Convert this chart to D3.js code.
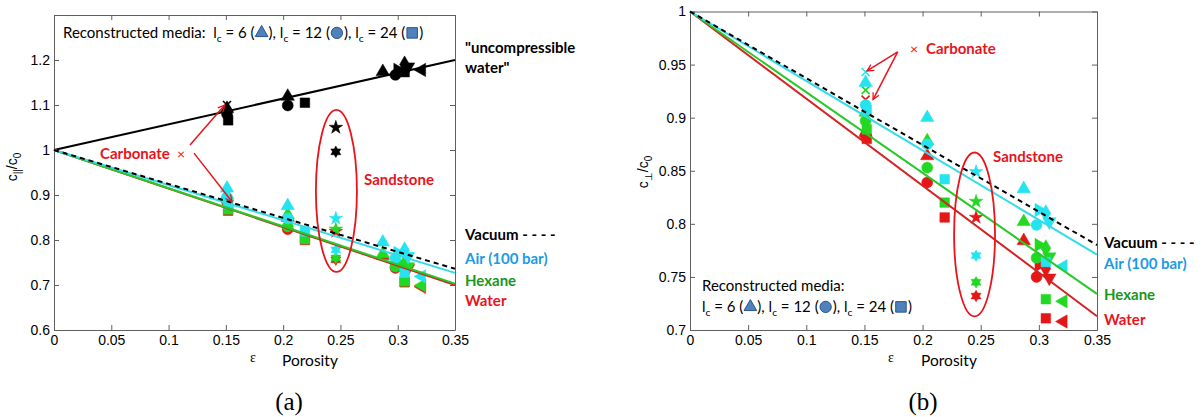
<!DOCTYPE html>
<html>
<head>
<meta charset="utf-8">
<script src="https://cdn.jsdelivr.net/npm/d3@7"></script>
<style>
body { margin: 0; background: #fff; }
svg { display: block; }
.axis text { font-family: "Liberation Sans", Arial, sans-serif; font-size: 14px; fill: #000; }
.axis path, .axis line { stroke: #606060; }
.cal { font-family: Lato, "Open Sans", sans-serif; white-space: pre; }
</style>
</head>
<body>
<svg id="fig" width="1201" height="417"></svg>
<script>
// samples: porosity and the marker used for each one
var samplePorosity = [0.151, 0.151, 0.151, 0.152, 0.204, 0.204, 0.219, 0.246, 0.246, 0.287, 0.298, 0.300, 0.306, 0.306, 0.309, 0.321];
var sampleMarker = ["x", "tri", "circle", "square", "tri", "circle", "square", "star", "hex", "tri", "circle", "triR", "square", "diamond", "triD", "triL"];

// (a) c_par / c0
var parIncomp = [1.100, 1.092, 1.080, 1.066, 1.119, 1.099, 1.105, 1.050, 0.996, 1.174, 1.167, 1.178, 1.173, 1.190, 1.185, 1.178];
var parAir    = [0.893, 0.915, 0.895, 0.880, 0.876, 0.848, 0.819, 0.848, 0.778, 0.795, 0.760, 0.771, 0.727, 0.777, 0.764, 0.719];
var parHexane = [0.890, 0.900, 0.888, 0.868, 0.856, 0.830, 0.802, 0.824, 0.760, 0.769, 0.741, 0.749, 0.708, 0.749, 0.741, 0.699];
var parWater  = [0.888, 0.895, 0.885, 0.865, 0.850, 0.824, 0.800, 0.819, 0.756, 0.765, 0.738, 0.745, 0.706, 0.745, 0.737, 0.696];

// (b) c_perp / c0
var perpAir    = [0.943, 0.933, 0.912, 0.907, 0.900, 0.875, 0.842, 0.849, 0.770, 0.833, 0.799, 0.813, 0.764, 0.810, 0.802, 0.760];
var perpHexane = [0.926, 0.905, 0.897, 0.889, 0.878, 0.853, 0.820, 0.821, 0.745, 0.802, 0.768, 0.780, 0.729, 0.777, 0.769, 0.727];
var perpWater  = [0.917, 0.886, 0.883, 0.880, 0.864, 0.839, 0.806, 0.806, 0.732, 0.784, 0.750, 0.761, 0.711, 0.758, 0.749, 0.708];

// model lines: value at porosity 0 and 0.35
var lineEps = [0, 0.35];
var parLineIncomp = [1, 1.200];
var parLineVacuum = [1, 0.736];
var parLineAir    = [1, 0.727];
var parLineHexane = [1, 0.703];
var parLineWater  = [1, 0.700];
var perpLineVacuum = [1, 0.780];
var perpLineAir    = [1, 0.771];
var perpLineHexane = [1, 0.734];
var perpLineWater  = [1, 0.713];

var xTicks = [0, 0.05, 0.1, 0.15, 0.2, 0.25, 0.3, 0.35];
var xTickLabels = ["0", "0.05", "0.1", "0.15", "0.2", "0.25", "0.3", "0.35"];
var parYTicks = [0.6, 0.7, 0.8, 0.9, 1.0, 1.1, 1.2];
var parYTickLabels = ["0.6", "0.7", "0.8", "0.9", "1", "1.1", "1.2"];
var perpYTicks = [0.7, 0.75, 0.8, 0.85, 0.9, 0.95, 1.0];
var perpYTickLabels = ["0.7", "0.75", "0.8", "0.85", "0.9", "0.95", "1"];

var colBlack = "#000000", colCyan = "#25e3ef", colGreen = "#22d822", colRed = "#e51616";
var lineCyan = "#35dbe6", lineGreen = "#27c927", lineRed = "#d42424";
var annRed = "#e8141c";

var svg = d3.select("#fig");

// arrow head for the red pointers
svg.append("defs").append("marker")
    .attr("id", "arrowRed")
    .attr("viewBox", "-10 -6 12 12")
    .attr("markerWidth", 10).attr("markerHeight", 10)
    .attr("markerUnits", "userSpaceOnUse")
    .attr("orient", "auto")
    .append("path")
    .attr("d", "M-8,-4L0,0L-8,4")
    .attr("fill", "none")
    .attr("stroke", annRed)
    .attr("stroke-width", 1.5);

function hexagramPath(r) {
    var pts = [];
    for (var i = 0; i < 12; i++) {
        var a = Math.PI / 6 * i - Math.PI / 2;
        var rr = i % 2 == 0 ? r : r * 0.58;
        pts.push([rr * Math.cos(a), rr * Math.sin(a)]);
    }
    return "M" + pts.join("L") + "Z";
}

function markerShape(type) {
    switch (type) {
        case "x": return { d: "M-4,-4L4,4M-4,4L4,-4", rot: 0, stroke: true };
        case "tri": return { d: d3.symbol(d3.symbolTriangle, 78)(), rot: 0 };
        case "triR": return { d: d3.symbol(d3.symbolTriangle, 78)(), rot: 90 };
        case "triD": return { d: d3.symbol(d3.symbolTriangle, 78)(), rot: 180 };
        case "triL": return { d: d3.symbol(d3.symbolTriangle, 78)(), rot: -90 };
        case "circle": return { d: d3.symbol(d3.symbolCircle, 95)(), rot: 0 };
        case "square": return { d: d3.symbol(d3.symbolSquare, 92)(), rot: 0 };
        case "diamond": return { d: d3.symbol(d3.symbolDiamond, 85)(), rot: 0 };
        case "star": return { d: d3.symbol(d3.symbolStar, 58)(), rot: 0 };
        case "hex": return { d: hexagramPath(5.8), rot: 0 };
    }
}

// text made of runs, subscripts and inline legend glyphs
function richText(g, x0, y0, pieces, size, color, weight) {
    var cx = x0;
    pieces.forEach(function(pc) {
        if (pc.sym) {
            var w = pc.w;
            g.append("path")
                .attr("d", d3.symbol(pc.sym, pc.size)())
                .attr("transform", "translate(" + (cx + w / 2) + "," + (y0 - size * 0.34) + ")")
                .attr("fill", "#4f81bd")
                .attr("stroke", "#2f528f")
                .attr("stroke-width", 1);
            cx += w;
        } else {
            var t = g.append("text")
                .attr("class", "cal")
                .attr("x", cx)
                .attr("y", pc.sub ? y0 + size * 0.28 : y0)
                .style("font-size", (pc.sub ? size * 0.68 : size) + "px")
                .style("font-weight", weight || "normal")
                .attr("fill", color)
                .text(pc.t);
            cx += t.node().getComputedTextLength();
        }
    });
}

function legendPieces() {
    return [
        { t: "l" }, { t: "c", sub: true }, { t: " = 6 (" }, { sym: d3.symbolTriangle, size: 70, w: 14 },
        { t: "), l" }, { t: "c", sub: true }, { t: " = 12 (" }, { sym: d3.symbolCircle, size: 100, w: 14 },
        { t: "), l" }, { t: "c", sub: true }, { t: " = 24 (" }, { sym: d3.symbolSquare, size: 110, w: 14 },
        { t: ")" }
    ];
}

function drawPanel(p) {
    var x = d3.scaleLinear().domain([0, 0.35]).range([p.left, p.right]);
    var y = d3.scaleLinear().domain(p.yDomain).range([p.bottom, p.top]);
    var g = svg.append("g");

    // box with inward ticks on all four sides
    g.append("g").attr("class", "axis")
        .attr("transform", "translate(0," + p.bottom + ")")
        .call(d3.axisBottom(x).tickValues(xTicks).tickFormat(function(d, i) { return xTickLabels[i]; })
            .tickSizeInner(-5).tickSizeOuter(0).tickPadding(5));
    g.append("g").attr("class", "axis")
        .attr("transform", "translate(0," + p.top + ")")
        .call(d3.axisTop(x).tickValues(xTicks).tickFormat("").tickSizeInner(-5).tickSizeOuter(0));
    g.append("g").attr("class", "axis")
        .attr("transform", "translate(" + p.left + ",0)")
        .call(d3.axisLeft(y).tickValues(p.yTicks).tickFormat(function(d, i) { return p.yTickLabels[i]; })
            .tickSizeInner(-5).tickSizeOuter(0).tickPadding(4));
    g.append("g").attr("class", "axis")
        .attr("transform", "translate(" + p.right + ",0)")
        .call(d3.axisRight(y).tickValues(p.yTicks).tickFormat("").tickSizeInner(-5).tickSizeOuter(0));
    g.selectAll(".axis .tick text").attr("fill", "#000");

    // markers
    p.series.forEach(function(s) {
        g.append("g").selectAll("path")
            .data(s.values)
            .enter().append("path")
            .attr("d", function(d, i) { return markerShape(sampleMarker[i]).d; })
            .attr("transform", function(d, i) {
                return "translate(" + x(samplePorosity[i]) + "," + y(d) + ") rotate(" + markerShape(sampleMarker[i]).rot + ")";
            })
            .attr("fill", function(d, i) { return markerShape(sampleMarker[i]).stroke ? "none" : s.color; })
            .attr("stroke", s.color)
            .attr("stroke-width", function(d, i) { return markerShape(sampleMarker[i]).stroke ? 1.6 : 0.5; });
    });

    // model lines
    var line = d3.line()
        .x(function(d, i) { return x(lineEps[i]); })
        .y(function(d) { return y(d); });
    p.lines.forEach(function(l) {
        g.append("path")
            .attr("d", line(l.values))
            .attr("fill", "none")
            .attr("stroke", l.color)
            .attr("stroke-width", 2)
            .attr("stroke-dasharray", l.dash || null);
    });

    // sandstone ellipse
    g.append("ellipse")
        .attr("cx", x(p.ellipse[0])).attr("cy", y(p.ellipse[1]))
        .attr("rx", x(p.ellipse[2]) - x(0)).attr("ry", y(p.yDomain[0]) - y(p.yDomain[0] + p.ellipse[3]))
        .attr("fill", "none").attr("stroke", annRed).attr("stroke-width", 1.8);

    // carbonate arrows
    p.arrows.forEach(function(a) {
        g.append("line")
            .attr("x1", x(a[0])).attr("y1", y(a[1]))
            .attr("x2", x(a[2])).attr("y2", y(a[3]))
            .attr("stroke", annRed).attr("stroke-width", 1.5)
            .attr("marker-end", "url(#arrowRed)");
    });

    // axis labels
    var yl = g.append("text")
        .attr("transform", "translate(" + p.yLabelPos[0] + "," + p.yLabelPos[1] + ") rotate(-90)")
        .attr("text-anchor", "middle")
        .style("font-family", "Liberation Sans, Arial, sans-serif")
        .style("font-size", "14px");
    yl.append("tspan").text("c");
    yl.append("tspan").attr("dy", 4).style("font-size", "10px").text(p.yLabelSub);
    yl.append("tspan").attr("dy", -4).text("/c");
    yl.append("tspan").attr("dy", 4).style("font-size", "10px").text("0");

    g.append("text")
        .attr("x", p.epsPos[0]).attr("y", p.epsPos[1])
        .attr("text-anchor", "middle")
        .style("font-family", "Liberation Serif, serif").style("font-size", "14px")
        .text("ε");
    g.append("text")
        .attr("class", "cal")
        .attr("x", p.porPos[0]).attr("y", p.porPos[1])
        .attr("text-anchor", "middle")
        .style("font-size", "15.5px")
        .text("Porosity");

    g.append("text")
        .attr("x", p.capPos[0]).attr("y", p.capPos[1])
        .attr("text-anchor", "middle")
        .style("font-family", "Liberation Serif, 'DejaVu Serif', serif").style("font-size", "25px")
        .text(p.caption);
    return { x: x, y: y, g: g };
}

// ---------- panel (a)
var A = drawPanel({
    left: 54, right: 455, top: 15, bottom: 330,
    yDomain: [0.6, 1.3], yTicks: parYTicks, yTickLabels: parYTickLabels,
    series: [
        { values: parIncomp, color: colBlack },
        { values: parWater, color: colRed },
        { values: parHexane, color: colGreen },
        { values: parAir, color: colCyan }
    ],
    lines: [
        { values: parLineIncomp, color: "#000" },
        { values: parLineWater, color: lineRed },
        { values: parLineHexane, color: lineGreen },
        { values: parLineAir, color: lineCyan },
        { values: parLineVacuum, color: "#000", dash: "5,4" }
    ],
    ellipse: [0.2465, 0.909, 0.0179, 0.18],
    arrows: [[0.1187, 1.011, 0.149, 1.100], [0.1222, 0.993, 0.1554, 0.885]],
    yLabelSub: "||", yLabelPos: [17, 167],
    epsPos: [253, 362], porPos: [310, 366],
    caption: "(a)", capPos: [289, 410]
});

richText(A.g, 63, 38, [{ t: "Reconstructed media:  " }].concat(legendPieces()), 15, "#000");
A.g.append("text").attr("class", "cal").attr("x", 100).attr("y", 159)
    .style("font-size", "15px").style("font-weight", "bold").attr("fill", annRed).text("Carbonate ");
A.g.append("text").attr("class", "cal").attr("x", 177).attr("y", 159)
    .style("font-size", "14px").attr("fill", annRed).text("×");
A.g.append("text").attr("class", "cal").attr("x", 364).attr("y", 185)
    .style("font-size", "15px").style("font-weight", "bold").attr("fill", annRed).text("Sandstone");

var rightA = [
    { t: "\"uncompressible", y: 53, c: "#000" },
    { t: "water\"", y: 73, c: "#000" },
    { t: "Vacuum - - - -", y: 240, c: "#000" },
    { t: "Air (100 bar)", y: 264, c: "#1a9be6" },
    { t: "Hexane", y: 286, c: "#1b961b" },
    { t: "Water", y: 306, c: annRed }
];
rightA.forEach(function(r) {
    A.g.append("text").attr("class", "cal").attr("x", 465).attr("y", r.y)
        .style("font-size", "15px").style("font-weight", "bold").attr("fill", r.c).text(r.t);
});

// ---------- panel (b)
var B = drawPanel({
    left: 690, right: 1097, top: 11.5, bottom: 330,
    yDomain: [0.7, 1.0], yTicks: perpYTicks, yTickLabels: perpYTickLabels,
    series: [
        { values: perpWater, color: colRed },
        { values: perpHexane, color: colGreen },
        { values: perpAir, color: colCyan }
    ],
    lines: [
        { values: perpLineWater, color: lineRed },
        { values: perpLineHexane, color: lineGreen },
        { values: perpLineAir, color: lineCyan },
        { values: perpLineVacuum, color: "#000", dash: "5,4" }
    ],
    ellipse: [0.2447, 0.790, 0.0176, 0.0772],
    arrows: [[0.1786, 0.962, 0.1522, 0.944], [0.1786, 0.962, 0.1574, 0.917]],
    yLabelSub: "⊥", yLabelPos: [648, 172],
    epsPos: [891, 362], porPos: [949, 366],
    caption: "(b)", capPos: [923, 410]
});

richText(B.g, 702, 291, [{ t: "Reconstructed media:" }], 15, "#000");
richText(B.g, 702, 312, legendPieces(), 15, "#000");
B.g.append("text").attr("class", "cal").attr("x", 910).attr("y", 54)
    .style("font-size", "14px").attr("fill", annRed).text("×");
B.g.append("text").attr("class", "cal").attr("x", 926).attr("y", 54)
    .style("font-size", "15px").style("font-weight", "bold").attr("fill", annRed).text("Carbonate");
B.g.append("text").attr("class", "cal").attr("x", 993).attr("y", 162)
    .style("font-size", "15px").style("font-weight", "bold").attr("fill", annRed).text("Sandstone");

var rightB = [
    { t: "Vacuum - - - -", y: 248, c: "#000" },
    { t: "Air (100 bar)", y: 269, c: "#1a9be6" },
    { t: "Hexane", y: 300, c: "#1b961b" },
    { t: "Water", y: 325, c: annRed }
];
rightB.forEach(function(r) {
    B.g.append("text").attr("class", "cal").attr("x", 1104).attr("y", r.y)
        .style("font-size", "15px").style("font-weight", "bold").attr("fill", r.c).text(r.t);
});
</script>
</body>
</html>
